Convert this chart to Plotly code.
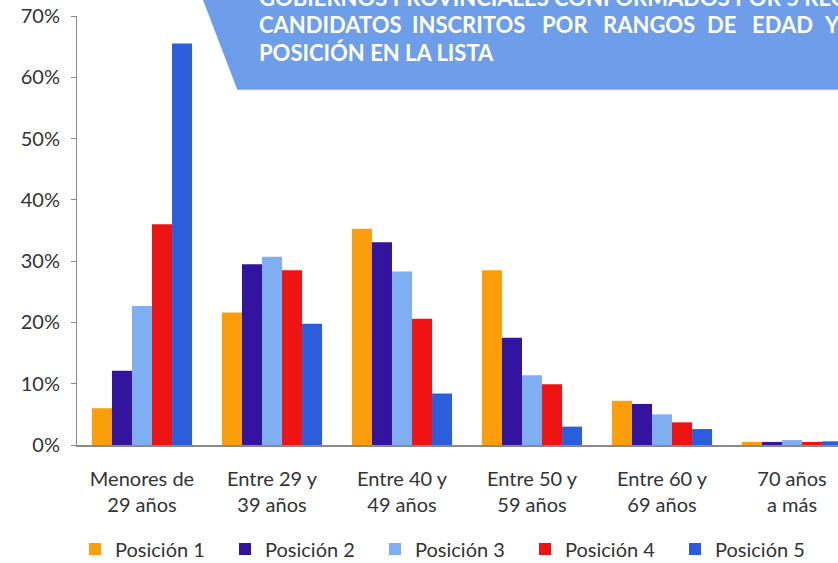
import plotly.graph_objects as go

# --- Datos ---
grupos = ["Menores de<br>29 años", "Entre 29 y<br>39 años", "Entre 40 y<br>49 años",
          "Entre 50 y<br>59 años", "Entre 60 y<br>69 años", "70 años<br>a más"]
posicion_1 = [0.060, 0.216, 0.353, 0.285, 0.072, 0.005]
posicion_2 = [0.121, 0.295, 0.331, 0.175, 0.067, 0.005]
posicion_3 = [0.227, 0.307, 0.283, 0.114, 0.050, 0.008]
posicion_4 = [0.360, 0.285, 0.206, 0.099, 0.037, 0.005]
posicion_5 = [0.655, 0.198, 0.084, 0.030, 0.026, 0.006]

series = [
    ("Posición 1", posicion_1, "#FA9E0C"),
    ("Posición 2", posicion_2, "#32149E"),
    ("Posición 3", posicion_3, "#7FAEF2"),
    ("Posición 4", posicion_4, "#EE1414"),
    ("Posición 5", posicion_5, "#2C5EDC"),
]

FONT = "Lato"
W, H = 838, 563
ML, MR, MT, MB = 77, 0, 16, 118
PW, PH = W - ML - MR, H - MT - MB


def px(x):
    return (x - ML) / PW


def py(y):
    return (H - MB - y) / PH


fig = go.Figure()
for nombre, valores, color in series:
    fig.add_trace(go.Bar(x=list(range(len(grupos))), y=valores, name=nombre,
                         marker=dict(color=color, line=dict(width=0))))

# --- Banner del título ---
banner = (f"M {px(203)},{py(0)} L {px(838)},{py(0)} L {px(838)},{py(89)} "
          f"L {px(237)},{py(89)} Z")
fig.add_shape(type="path", path=banner, xref="paper", yref="paper",
              fillcolor="#6E9EE9", line=dict(width=0), layer="above")
fig.add_shape(type="line", x0=px(237), x1=px(838), y0=py(89.5), y1=py(89.5),
              xref="paper", yref="paper", line=dict(color="rgba(60,70,110,0.35)", width=1.5),
              layer="above")

linea1 = "GOBIERNOS PROVINCIALES CONFORMADOS POR 5 REGIDORES:"
linea2 = [("CANDIDATOS", 257), ("INSCRITOS", 410), ("POR", 540), ("RANGOS", 601),
          ("DE", 705), ("EDAD", 750), ("Y", 822)]
linea3 = "POSICIÓN EN LA LISTA"
tfont = dict(family=FONT, size=22, color="white", weight="bold")
fig.add_annotation(text=linea1, x=px(257), y=py(-3), xref="paper", yref="paper",
                   xanchor="left", yanchor="middle", showarrow=False, font=tfont)
for palabra, xpos in linea2:
    fig.add_annotation(text=palabra, x=px(xpos), y=py(25), xref="paper", yref="paper",
                       xanchor="left", yanchor="middle", showarrow=False, font=tfont)
fig.add_annotation(text=linea3, x=px(257), y=py(53), xref="paper", yref="paper",
                   xanchor="left", yanchor="middle", showarrow=False, font=tfont)

fig.update_layout(
    width=W, height=H,
    margin=dict(l=ML, r=MR, t=MT, b=MB, autoexpand=False),
    paper_bgcolor="white", plot_bgcolor="white",
    barmode="group", bargap=0.23, bargroupgap=0,
    font=dict(family=FONT, size=20, color="#333333"),
    showlegend=True,
    legend=dict(orientation="h", x=px(75), y=py(549), xanchor="left", yanchor="middle",
                font=dict(size=20, color="#333333"), itemwidth=30,
                entrywidth=105, entrywidthmode="pixels", traceorder="normal"),
)
fig.update_xaxes(tickmode="array", tickvals=list(range(len(grupos))), ticktext=grupos,
                 range=[-0.5, (W - ML) / 130 - 0.5], showline=True, linecolor="#8a8a8a",
                 linewidth=2, ticks="", showgrid=False, ticklabelstandoff=15)
fig.update_yaxes(range=[0, 0.70], dtick=0.10, tickformat=".0%", showline=True,
                 linecolor="#8a8a8a", linewidth=1, ticks="outside", ticklen=5,
                 tickcolor="#8a8a8a", showgrid=False, zeroline=False,
                 ticklabelstandoff=7)

fig.write_html("out.html", config={"displayModeBar": False},
               post_script="document.body.style.margin='0';")
